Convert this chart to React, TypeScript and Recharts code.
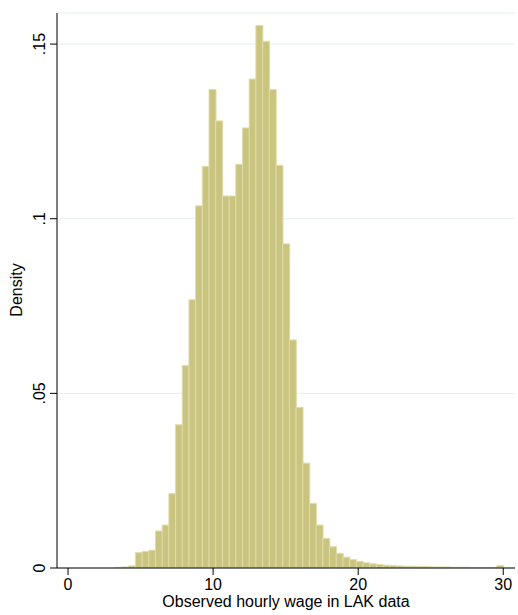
import React from 'react';
import { BarChart, Bar, XAxis, YAxis, CartesianGrid, Label } from 'recharts';

// histogram bins: lower edge of the first bin and bin width (wage units)
const binStart = 3.26;
const binWidth = 0.4614;

const density = [
  0.0002, 0.0003, 0.0006, 0.0044, 0.0047, 0.0051, 0.0106, 0.0123, 0.0213, 0.041,
  0.058, 0.0768, 0.1037, 0.115, 0.137, 0.128, 0.1065, 0.1065, 0.1156, 0.126,
  0.14, 0.1553, 0.1508, 0.137, 0.1153, 0.0928, 0.0653, 0.046, 0.03, 0.0185,
  0.0123, 0.0085, 0.0061, 0.0042, 0.0031, 0.0024, 0.0019, 0.0015, 0.0012, 0.001,
  0.0008, 0.0007, 0.0006, 0.0005, 0.0005, 0.0004, 0.0004, 0.0003, 0.0003, 0.0003,
  0.0002, 0.0002, 0.0002, 0.0001, 0.0001, 0.0001, 0.0001, 0.0007,
];

const xTicks = [0, 10, 20, 30];
const yTicks = [0, 0.05, 0.1, 0.15];

const data = density.map((d, i) => ({
  wage: binStart + (i + 0.5) * binWidth,
  density: d,
}));

const font = '"Liberation Sans", Arial, Helvetica, sans-serif';

const fmtY = (v: number) => (v === 0 ? '0' : String(v).replace(/^0/, ''));

const YTick = (props: any) => {
  const { x, y, payload } = props;
  return (
    <text
      transform={`translate(${x - 5},${y}) rotate(-90)`}
      textAnchor="middle"
      fontSize={16}
      fontFamily={font}
      fill="#000"
    >
      {fmtY(payload.value)}
    </text>
  );
};

const XTick = (props: any) => {
  const { x, y, payload } = props;
  return (
    <text x={x} y={y + 15} textAnchor="middle" fontSize={16} fontFamily={font} fill="#000">
      {payload.value}
    </text>
  );
};

export default function App() {
  return (
    <div style={{ position: 'absolute', left: 0, top: 0, width: 518, height: 615, background: '#fff' }}>
      <BarChart
        width={518}
        height={615}
        data={data}
        margin={{ top: 13, right: 3, left: 0, bottom: 0 }}
        barCategoryGap={0}
        barGap={0}
      >
        <CartesianGrid horizontal vertical={false} stroke="#e4eef0" strokeWidth={1} />
        <XAxis
          dataKey="wage"
          type="number"
          domain={[-0.76, 30.81]}
          ticks={xTicks}
          interval={0}
          height={47}
          tickSize={7}
          tickMargin={0}
          tick={<XTick />}
          axisLine={{ stroke: '#000', strokeWidth: 1 }}
          tickLine={{ stroke: '#000', strokeWidth: 1 }}
          allowDataOverflow
        >
          <Label
            content={() => (
              <text x={286} y={607} textAnchor="middle" fontSize={16} fontFamily={font} fill="#000">
                Observed hourly wage in LAK data
              </text>
            )}
          />
        </XAxis>
        <YAxis
          type="number"
          domain={[0, 0.1589]}
          ticks={yTicks}
          interval={0}
          width={57}
          tickSize={7}
          tickMargin={0}
          tick={<YTick />}
          axisLine={{ stroke: '#000', strokeWidth: 1 }}
          tickLine={{ stroke: '#000', strokeWidth: 1 }}
          allowDataOverflow
        >
          <Label
            content={() => (
              <text
                transform="translate(22,290) rotate(-90)"
                textAnchor="middle"
                fontSize={16}
                fontFamily={font}
                fill="#000"
              >
                Density
              </text>
            )}
          />
        </YAxis>
        <Bar
          dataKey="density"
          fill="#cac481"
          stroke="#e2dca8"
          strokeWidth={1}
          isAnimationActive={false}
        />
      </BarChart>
    </div>
  );
}
